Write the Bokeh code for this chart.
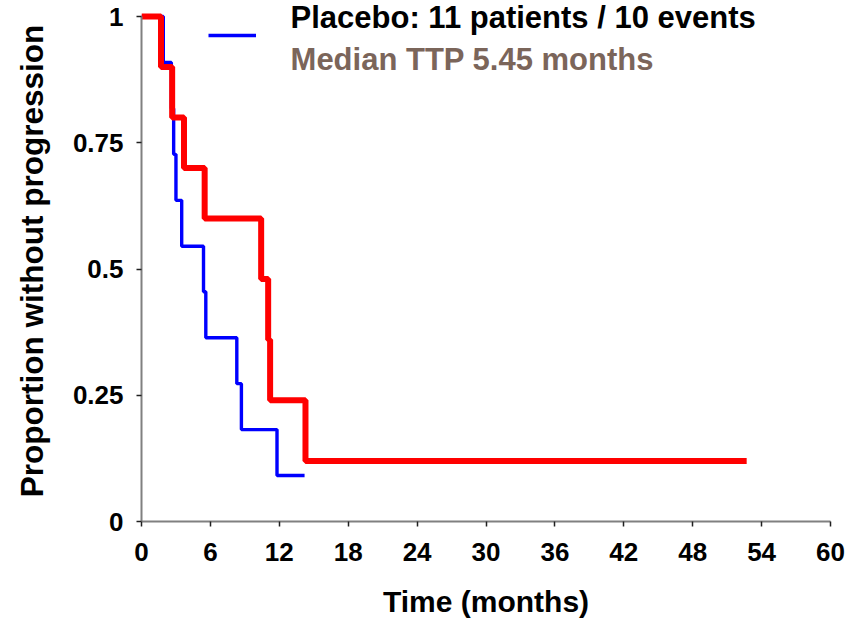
from bokeh.plotting import figure
from bokeh.models import Range1d, FixedTicker, Label, Legend, LegendItem
from bokeh.embed import file_html
from bokeh.resources import INLINE

# ---- data ----
placebo_time = [0, 1.9, 2.6, 2.8, 3.0, 3.5, 5.4, 5.6, 8.3, 8.7, 11.8, 14.2]
placebo_surv = [1.0, 0.909, 0.818, 0.727, 0.636, 0.545, 0.455, 0.364, 0.273, 0.182, 0.091, 0.091]

treat_time = [0, 1.7, 2.67, 3.7, 5.5, 10.42, 11.03, 11.2, 14.28, 52.7]
treat_surv = [1.0, 0.9, 0.8, 0.7, 0.6, 0.48, 0.36, 0.24, 0.12, 0.12]

x_ticks = [0, 6, 12, 18, 24, 30, 36, 42, 48, 54, 60]
y_ticks = [0, 0.25, 0.5, 0.75, 1.0]
y_tick_labels = ["0", "0.25", "0.5", "0.75", "1"]

legend_line1 = "Placebo: 11 patients / 10 events"
legend_line2 = "Median TTP 5.45 months"
x_title = "Time (months)"
y_title = "Proportion without progression"

FONT = "Liberation Sans"
BROWN = "#7B655A"

p = figure(width=864, height=622, output_backend="svg", toolbar_location=None,
           x_range=Range1d(0, 60), y_range=Range1d(0, 1.0317),
           min_border_left=141, min_border_right=34, min_border_top=0, min_border_bottom=101)
p.outline_line_color = None
p.xgrid.visible = False
p.ygrid.visible = False
p.background_fill_color = "white"
p.border_fill_color = "white"

r_blue = p.step(placebo_time, placebo_surv, mode="after", line_color="#0000FF", line_width=3.4)
r_red = p.step(treat_time, treat_surv, mode="after", line_color="#FF0000", line_width=6)

for ax in (p.xaxis[0], p.yaxis[0]):
    ax.axis_line_color = "#808080"
    ax.axis_line_width = 2
    ax.major_tick_line_color = "#202020"
    ax.major_tick_line_width = 1.5
    ax.major_tick_in = 0
    ax.major_tick_out = 5
    ax.minor_tick_line_color = None
    ax.major_label_text_font = FONT
    ax.major_label_text_font_style = "bold"
    ax.major_label_text_font_size = "26px"
    ax.major_label_text_color = "black"
    ax.axis_label_text_font = FONT
    ax.axis_label_text_font_style = "bold"
    ax.axis_label_text_font_size = "30px"
    ax.axis_label_text_color = "black"

p.xaxis.ticker = FixedTicker(ticks=x_ticks)
p.xaxis.major_label_standoff = 16
p.xaxis.axis_label = x_title
p.xaxis.axis_label_standoff = 21

p.yaxis.ticker = FixedTicker(ticks=y_ticks)
p.yaxis.major_label_overrides = dict(zip(y_ticks, y_tick_labels))
p.yaxis.bounds = (0, 1)
p.yaxis.major_label_standoff = 13
p.yaxis.axis_label = y_title
p.yaxis.axis_label_standoff = 20
p.yaxis.axis_label_text_font_size = "31.5px"

leg = Legend(items=[LegendItem(label=" ", renderers=[r_blue])],
             location=(67, 481), glyph_width=48, glyph_height=10,
             label_width=0, label_height=0, label_standoff=0,
             padding=0, margin=0, spacing=0,
             border_line_color=None, background_fill_alpha=0,
             label_text_font_size="1px")
p.add_layout(leg)

p.add_layout(Label(x=12.98, y=0.998, text=legend_line1, text_font=FONT,
                   text_font_style="bold", text_font_size="31px",
                   text_color="black", text_baseline="alphabetic"))
p.add_layout(Label(x=12.98, y=0.915, text=legend_line2, text_font=FONT,
                   text_font_style="bold", text_font_size="31px",
                   text_color=BROWN, text_baseline="alphabetic"))

open("out.html", "w").write(file_html(p, INLINE))
